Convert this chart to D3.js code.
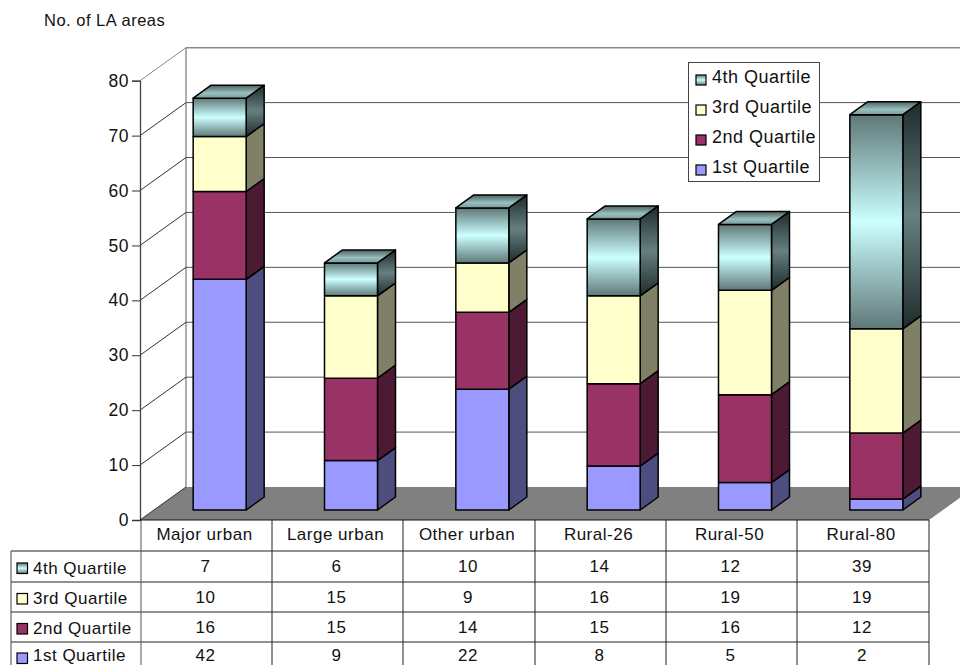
<!DOCTYPE html>
<html>
<head>
<meta charset="utf-8">
<script src="https://cdn.jsdelivr.net/npm/d3@7"></script>
<style>
html,body{margin:0;padding:0;background:#fff}
svg{display:block}
text{font-family:"Liberation Sans",Arial,sans-serif;fill:#111;letter-spacing:0.5px}
</style>
</head>
<body>
<svg id="chart" width="960" height="665"></svg>
<script>
const categories = ["Major urban","Large urban","Other urban","Rural-26","Rural-50","Rural-80"];
const seriesNames = ["1st Quartile","2nd Quartile","3rd Quartile","4th Quartile"];
const q1 = [42,9,22,8,5,2];
const q2 = [16,15,14,15,16,12];
const q3 = [10,15,9,16,19,19];
const q4 = [7,6,10,14,12,39];
const seriesValues = [q1,q2,q3,q4];
const yTicks = [0,10,20,30,40,50,60,70,80];

const svg = d3.select("#chart");
const defs = svg.append("defs");

// Plot frame: front plane plus oblique depth offset
const frontLeft = 140, frontRight = 929, zeroY = 520, topY = 80.7;
const depthX = 46, depthY = -33;
const y = d3.scaleLinear().domain([0,80]).range([zeroY, topY]);
const x = d3.scaleBand().domain(categories).range([frontLeft+1, frontRight]);
const barW = 53, barDX = 18, barDY = -13;
const barOffX = 13 , barOffY = -10;

// Solid fills per series: front, side
const solid = [
  {front:"#9999ff", side:"#4d4d80"},
  {front:"#993366", side:"#4d1a33"},
  {front:"#ffffcc", side:"#808066"}
];

// Banded metallic fills for the top series
function band(id, stops){
  const g = defs.append("linearGradient").attr("id", id)
    .attr("x1",0).attr("y1",0).attr("x2",0).attr("y2",1);
  stops.forEach(([o,c]) => g.append("stop").attr("offset",o).attr("stop-color",c));
}
band("q4Front",[[0,"#5f7878"],[0.5,"#ccffff"],[1,"#5f7878"]]);
band("q4Side",[[0,"#1f2b2b"],[0.5,"#668080"],[1,"#1f2b2b"]]);
band("q4Top",[[0,"#4a6060"],[0.6,"#99bfbf"],[1,"#7a9a9a"]]);

const swatchFill = i => i === 3 ? "url(#q4Front)" : solid[i].front;

// Floor
const floorPts = [[frontLeft,zeroY],[frontLeft+depthX,zeroY+depthY],[frontRight+depthX,zeroY+depthY],[frontRight,zeroY]];
svg.append("polygon").attr("points",floorPts.join(" ")).attr("fill","#808080");

// Back wall edges
svg.append("line").attr("x1",frontLeft+depthX).attr("x2",frontLeft+depthX)
  .attr("y1",y(80)+depthY).attr("y2",zeroY+depthY).attr("stroke","#8a8a8a").attr("stroke-width",1.4);
svg.append("line").attr("x1",frontLeft+depthX).attr("x2",960)
  .attr("y1",y(80)+depthY).attr("y2",y(80)+depthY).attr("stroke","#8a8a8a").attr("stroke-width",1.4);

// Gridlines along the side wall and the back wall
yTicks.forEach(t => {
  const yy = y(t);
  svg.append("line").attr("x1",frontLeft).attr("y1",yy).attr("x2",frontLeft+depthX).attr("y2",yy+depthY)
    .attr("stroke", t === 80 ? "#8a8a8a" : "#333").attr("stroke-width",1);
  if (t > 0 && t < 80) svg.append("line").attr("x1",frontLeft+depthX).attr("x2",960)
    .attr("y1",yy+depthY).attr("y2",yy+depthY).attr("stroke","#555").attr("stroke-width",1);
});

// Stacked 3D columns
const stack = d3.stack().keys(d3.range(4)).value((d,k) => seriesValues[k][d])(d3.range(categories.length));
const barG = svg.append("g").attr("stroke","#000").attr("stroke-width",1.5).attr("stroke-linejoin","round");
categories.forEach((c,ci) => {
  const x0 = x(c) + barOffX + (x.bandwidth()-barW)/2, x1 = x0 + barW;
  stack.forEach((s,si) => {
    const yb = y(s[ci][0]) + barOffY, yt = y(s[ci][1]) + barOffY;
    const fills = si === 3
      ? {front:"url(#q4Front)", side:"url(#q4Side)", top:"url(#q4Top)"}
      : solid[si];
    barG.append("polygon")
      .attr("points",[[x1,yb],[x1+barDX,yb+barDY],[x1+barDX,yt+barDY],[x1,yt]].join(" "))
      .attr("fill",fills.side);
    barG.append("rect").attr("x",x0).attr("y",yt).attr("width",barW).attr("height",yb-yt)
      .attr("fill",fills.front);
    if (si === 3) barG.append("polygon")
      .attr("points",[[x0,yt],[x0+barDX,yt+barDY],[x1+barDX,yt+barDY],[x1,yt]].join(" "))
      .attr("fill",fills.top);
  });
});

// Value axis
const axisG = svg.append("g").attr("transform",`translate(${frontLeft},0)`)
  .call(d3.axisLeft(y).tickValues(yTicks).tickSize(8).tickPadding(3).tickFormat(d3.format("d")));
axisG.select(".domain").attr("stroke","#444").attr("stroke-width",1.3);
axisG.selectAll(".tick line").attr("stroke","#333");
axisG.selectAll("text").attr("font-size",17.5)
  .style("font-family",'"Liberation Sans",Arial,sans-serif').attr("fill","#111");

svg.append("text").attr("x",44).attr("y",26).attr("font-size",16.5)
  .style("letter-spacing","0.5px").text("No. of LA areas");

// Data table below the plot
const rowYs = [520,551,582,612,642];
const labelBase = [574,604,633.5,661];
const valueBase = [572,602.5,632.5,661];
const swatchTop = [563,593.5,623.5,653];
const colXs = [141,272,403,535,666,797,929];
const tableLeft = 11;
const table = svg.append("g");
const tl = (x1,y1,x2,y2,c="#222") => table.append("line").attr("x1",x1).attr("y1",y1).attr("x2",x2).attr("y2",y2).attr("stroke",c).attr("stroke-width",1);
rowYs.forEach((ry,i) => tl(i === 0 ? frontLeft : tableLeft, ry, frontRight, ry, i === 0 ? "#111" : "#222"));
colXs.forEach((cx,i) => tl(cx, 520, cx, 665, i === 0 ? "#555" : "#222"));
tl(tableLeft,551,tableLeft,665,"#444");

categories.forEach((c,i) => {
  table.append("text").attr("x",(colXs[i]+colXs[i+1])/2 - 2).attr("y",540).attr("text-anchor","middle")
    .attr("font-size",17).text(c);
});
[3,2,1,0].forEach((si,r) => {
  table.append("rect").attr("x",17).attr("y",swatchTop[r]).attr("width",10.5).attr("height",10.5)
    .attr("fill",swatchFill(si)).attr("stroke","#000").attr("stroke-width",1.2);
  table.append("text").attr("x",33).attr("y",labelBase[r]).attr("font-size",17).text(seriesNames[si]);
  categories.forEach((c,i) => {
    table.append("text").attr("x",(colXs[i]+colXs[i+1])/2 - 1).attr("y",valueBase[r]).attr("text-anchor","middle")
      .attr("font-size",17).text(seriesValues[si][i]);
  });
});

// Legend box
const legend = svg.append("g");
legend.append("rect").attr("x",688.5).attr("y",62.5).attr("width",131).attr("height",119)
  .attr("fill","#fff").attr("stroke","#444").attr("stroke-width",1);
[3,2,1,0].forEach((si,r) => {
  const cy = 78 + r*30;
  legend.append("rect").attr("x",696).attr("y",cy-3).attr("width",10).attr("height",10)
    .attr("fill",swatchFill(si)).attr("stroke","#000").attr("stroke-width",1.2);
  legend.append("text").attr("x",712).attr("y",cy+5).attr("font-size",18).text(seriesNames[si]);
});
</script>
</body>
</html>
